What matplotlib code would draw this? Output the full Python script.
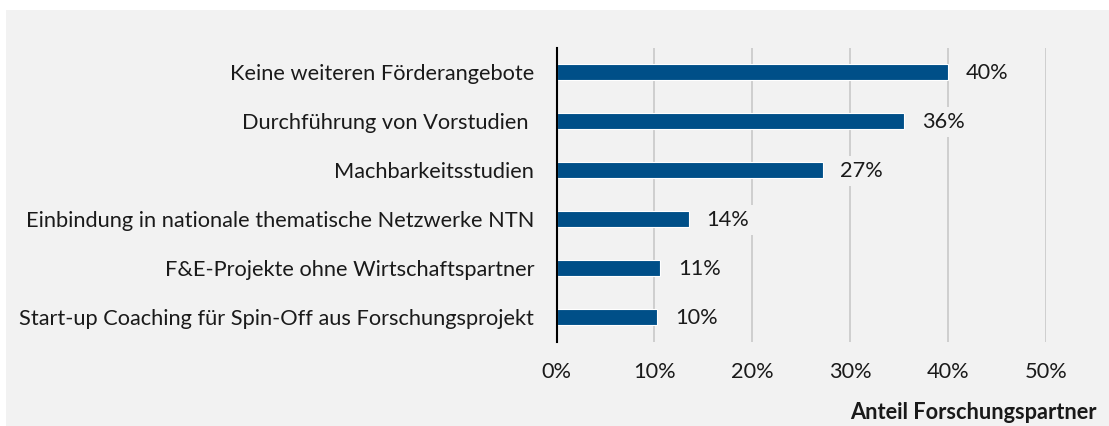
import matplotlib.pyplot as plt
from matplotlib.patches import Rectangle
from matplotlib.ticker import PercentFormatter

categories = [
    "Keine weiteren Förderangebote",
    "Durchführung von Vorstudien ",
    "Machbarkeitsstudien",
    "Einbindung in nationale thematische Netzwerke NTN",
    "F&E-Projekte ohne Wirtschaftspartner",
    "Start-up Coaching für Spin-Off aus Forschungsprojekt",
]
values = [0.400, 0.355, 0.272, 0.135, 0.106, 0.103]
value_labels = ["40%", "36%", "27%", "14%", "11%", "10%"]
xticks = [0, 0.1, 0.2, 0.3, 0.4, 0.5]

plt.rcParams['font.family'] = ['Lato', 'DejaVu Sans']
bg = '#f2f2f2'
bar_color = '#004f88'
fs = 15.7

fig = plt.figure(figsize=(11.09, 4.26), dpi=100)
fig.patch.set_facecolor('white')
fig.patches.append(Rectangle((6 / 1109, 0), 1, 1 - 10 / 426, transform=fig.transFigure,
                             facecolor=bg, edgecolor='none', zorder=-5))

ax = fig.add_axes([556.5 / 1109, 84.5 / 426, 489.5 / 1109, 294 / 426])
ax.set_facecolor(bg)
ax.patch.set_alpha(0)

y = list(range(len(categories)))
ax.barh(y, values, height=0.31, color=bar_color, edgecolor='white', linewidth=0.8, zorder=3)

for yi, v, lab in zip(y, values, value_labels):
    ax.text(v + 0.018, yi + 0.02, lab, va='center', ha='left', fontsize=fs, color='#1a1a1a',
            bbox=dict(boxstyle='square,pad=0.25', facecolor=bg, edgecolor='none'), zorder=4)

ax.set_xlim(0, 0.5)
ax.set_ylim(len(categories) - 0.5, -0.5)
ax.set_xticks(xticks)
ax.xaxis.set_major_formatter(PercentFormatter(1.0, decimals=0))
ax.set_yticks(y)
ax.set_yticklabels(categories)
ax.tick_params(axis='y', length=0, pad=16, labelsize=fs, labelcolor='#1a1a1a')
ax.tick_params(axis='x', length=0, pad=15, labelsize=fs, labelcolor='#1a1a1a')
ax.grid(axis='x', color='#c8c8c8', linewidth=1.2, zorder=1)
ax.set_axisbelow(True)
for side in ['top', 'right', 'bottom']:
    ax.spines[side].set_visible(False)
ax.spines['left'].set_color('black')
ax.spines['left'].set_linewidth(1.5)
ax.spines['left'].set_zorder(5)

fig.text(1097 / 1109, 3 / 426, "Anteil Forschungspartner", ha='right', va='bottom',
         fontsize=fs, fontweight='bold', color='#1a1a1a')

fig.savefig("out.png", dpi=100, facecolor=fig.get_facecolor())
